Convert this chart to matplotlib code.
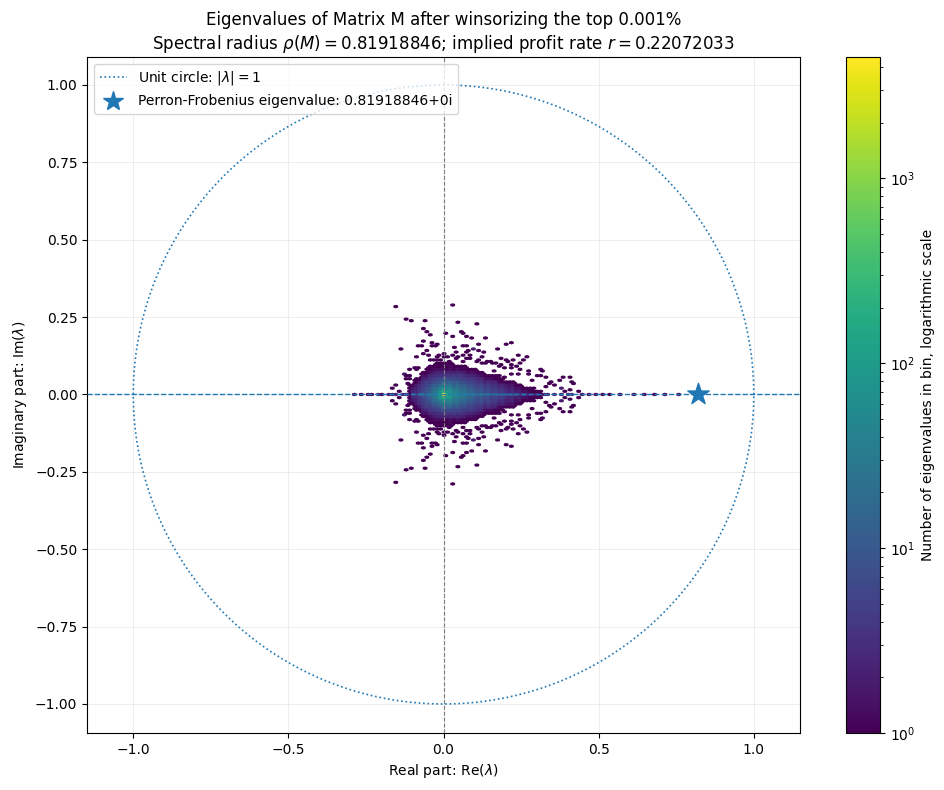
import numpy as np
import matplotlib
matplotlib.use('Agg')
import matplotlib.pyplot as plt
from matplotlib.colors import LogNorm
from matplotlib.lines import Line2D

# Perron-Frobenius eigenvalue and implied profit rate
pf_value = 0.81918846
profit_rate = 0.22072033

# real eigenvalues on the axis: position, how many
real_re = [-0.293, -0.265, -0.245, -0.232, -0.21, -0.195, -0.18, -0.165, -0.15,
           -0.135, -0.12, -0.10, -0.08, -0.06, -0.04, -0.02, 0.02, 0.04, 0.06,
           0.08, 0.10, 0.12, 0.14, 0.16, 0.18, 0.20, 0.22, 0.24, 0.26, 0.28,
           0.30, 0.32, 0.34, 0.36, 0.38, 0.40, 0.415, 0.447, 0.468, 0.49,
           0.516, 0.538, 0.57, 0.613, 0.645, 0.683, 0.71, 0.76, pf_value]
real_n = [1, 1, 1, 1, 2, 1, 2, 2, 2,
          3, 3, 4, 5, 6, 8, 15, 15, 10, 8,
          7, 6, 5, 5, 4, 4, 4, 3, 3, 3, 2,
          2, 2, 2, 2, 2, 2, 6, 1, 1, 1,
          1, 1, 1, 1, 1, 1, 1, 1, 1]

# bin holding the bulk at the origin
peak_n = 4300

# dense core, upper half plane (conjugates mirror it)
core_re = [-0.10, -0.08, -0.06, -0.04, -0.02, 0.00, 0.02, 0.04, 0.06, 0.08, 0.10,
           0.12, 0.14, 0.16, 0.18, 0.20, 0.22, 0.24, 0.26, 0.28, 0.30]
core_im = [0.00, 0.01, 0.02, 0.03, 0.04, 0.05, 0.06, 0.07, 0.08, 0.09]
core_n = [
    [2, 4, 8, 15, 40, 220, 90, 50, 30, 20, 15, 10, 8, 6, 5, 4, 3, 2, 2, 1, 1],
    [2, 3, 6, 12, 30, 80, 50, 30, 20, 15, 10, 8, 6, 5, 4, 3, 2, 2, 1, 1, 0],
    [1, 3, 5, 9, 18, 35, 30, 20, 15, 10, 8, 6, 5, 4, 3, 2, 2, 1, 0, 0, 0],
    [0, 2, 4, 6, 10, 18, 16, 12, 10, 7, 5, 4, 3, 3, 2, 2, 1, 0, 0, 0, 0],
    [0, 1, 3, 4, 6, 10, 9, 8, 6, 5, 4, 3, 2, 2, 1, 0, 0, 0, 0, 0, 0],
    [0, 0, 2, 3, 4, 5, 5, 5, 4, 3, 3, 2, 1, 1, 0, 0, 0, 0, 0, 0, 0],
    [0, 0, 1, 2, 3, 3, 3, 3, 3, 2, 2, 1, 0, 0, 0, 0, 0, 0, 0, 0, 0],
    [0, 0, 0, 1, 2, 2, 2, 2, 2, 1, 1, 0, 0, 0, 0, 0, 0, 0, 0, 0, 0],
    [0, 0, 0, 1, 1, 1, 1, 1, 1, 0, 0, 0, 0, 0, 0, 0, 0, 0, 0, 0, 0],
    [0, 0, 0, 0, 1, 1, 1, 0, 0, 0, 0, 0, 0, 0, 0, 0, 0, 0, 0, 0, 0],
]

# scattered single eigenvalues, upper half plane
scatter_re = [-0.158, 0.035, -0.120, -0.103, -0.057, 0.050, 0.104, -0.064, -0.050,
              -0.044, 0.006, 0.055, 0.061, 0.028, 0.076, 0.096, 0.137, -0.060,
              -0.035, -0.020, 0.116, 0.219, 0.202, -0.080, -0.040, -0.024, 0.060,
              0.074, -0.135, 0.039, 0.080, 0.098, 0.174, -0.055, 0.041, 0.130,
              -0.090, -0.050, -0.015, 0.007, 0.080, 0.242, 0.264, -0.044, -0.029,
              -0.010, 0.017, 0.044, 0.068, 0.114, 0.141, 0.158, 0.184, 0.198,
              0.213, 0.226, 0.248, 0.221, 0.182, -0.106, -0.087, -0.123, -0.104,
              -0.165, 0.269, 0.248, 0.319, 0.308, 0.342, 0.371, 0.411, 0.417,
              0.285, 0.334, 0.377, 0.404, 0.430, 0.246, 0.312, 0.382, 0.414,
              0.345, 0.382, -0.122, -0.096, -0.117, -0.14, -0.15, 0.36, 0.39,
              -0.074, 0.098, -0.060, -0.026, 0.004, 0.017, 0.028, 0.049, 0.060,
              0.073, 0.114, 0.119, -0.021, 0.073, 0.087, 0.103, 0.119, 0.135,
              0.151, 0.167, 0.187, 0.253, -0.078, 0.167, 0.194, 0.216, 0.232,
              0.275, -0.122, -0.111, -0.117, 0.178, 0.200, 0.221, 0.302, 0.329]
scatter_im = [0.282, 0.289, 0.243, 0.237, 0.238, 0.234, 0.226, 0.212, 0.201,
              0.193, 0.195, 0.203, 0.196, 0.187, 0.185, 0.182, 0.180, 0.173,
              0.169, 0.165, 0.163, 0.169, 0.159, 0.158, 0.155, 0.155, 0.159,
              0.155, 0.148, 0.152, 0.144, 0.146, 0.148, 0.141, 0.136, 0.134,
              0.122, 0.128, 0.128, 0.122, 0.125, 0.129, 0.122, 0.114, 0.110,
              0.112, 0.106, 0.117, 0.106, 0.110, 0.105, 0.103, 0.115, 0.112,
              0.108, 0.110, 0.103, 0.094, 0.090, 0.083, 0.084, 0.066, 0.052,
              0.017, 0.066, 0.081, 0.079, 0.062, 0.040, 0.045, 0.056, 0.038,
              0.047, 0.025, 0.020, 0.014, 0.009, 0.066, 0.079, 0.056, 0.041,
              0.036, 0.020, 0.068, 0.084, 0.036, 0.012, 0.030, 0.030, 0.012,
              0.158, 0.149, 0.131, 0.121, 0.130, 0.122, 0.126, 0.122, 0.128,
              0.134, 0.141, 0.122, 0.111, 0.114, 0.117, 0.106, 0.101, 0.104,
              0.106, 0.101, 0.095, 0.111, 0.088, 0.074, 0.085, 0.087, 0.090,
              0.074, 0.063, 0.058, 0.050, 0.063, 0.058, 0.065, 0.063, 0.058]


def build_points():
    """Collect eigenvalue positions and multiplicities for the hexbin."""
    xs, ys, ws = [], [], []
    for r, n in zip(real_re, real_n):
        xs.append(r); ys.append(0.0); ws.append(n)
    xs.append(0.0); ys.append(0.0); ws.append(peak_n)
    for r, i in zip(scatter_re, scatter_im):
        xs += [r, r]; ys += [i, -i]; ws += [1, 1]
    # hex cell area for gridsize 100
    xmin, xmax = min(xs), max(xs)
    ymin, ymax = min(ys), max(ys)
    hex_area = (xmax - xmin) / 100 * (ymax - ymin) / int(100 / np.sqrt(3)) / 2
    step = 0.0025
    w_sub = step * step / hex_area
    offs_x = np.arange(-0.01 + step / 2, 0.01, step)
    offs_y = np.arange(step / 2, 0.01, step)
    for i, band in enumerate(core_im):
        for j, r in enumerate(core_re):
            d = core_n[i][j]
            if d == 0:
                continue
            for ox in offs_x:
                for oy in offs_y:
                    xs += [r + ox, r + ox]
                    ys += [band + oy, -(band + oy)]
                    ws += [d * w_sub, d * w_sub]
    return np.array(xs), np.array(ys), np.array(ws)


x, y, w = build_points()

fig = plt.figure(figsize=(9.44, 7.9), dpi=100)
ax = fig.add_axes([0.0922, 0.0722, 0.7553, 0.8557])
cax = fig.add_axes([0.8962, 0.0722, 0.036, 0.8557])

hb = ax.hexbin(x, y, C=w, reduce_C_function=np.sum, gridsize=100,
               cmap='viridis', norm=LogNorm(vmin=1), zorder=2)

t = np.linspace(0, 2 * np.pi, 721)
ax.plot(np.cos(t), np.sin(t), ls=':', color='C0', lw=1.2, zorder=3)
ax.axhline(0, color='C0', ls='--', lw=1.0, zorder=4)
ax.axvline(0, color='C0', ls=(3.7, (1.6, 3.7)), lw=0.8, zorder=4)
ax.axvline(0, color='gray', ls=(0, (3.7, 1.6)), lw=0.8, zorder=4)
ax.scatter([pf_value], [0], marker='*', s=260, color='C0', zorder=5)

ax.set_xlim(-1.149, 1.149)
ax.set_ylim(-1.0936, 1.0904)
ax.set_xticks([-1.0, -0.5, 0.0, 0.5, 1.0])
ax.set_yticks([-1.0, -0.75, -0.5, -0.25, 0.0, 0.25, 0.5, 0.75, 1.0])
ax.grid(True, color='#dddddd', lw=0.6, alpha=0.6, zorder=0)
ax.set_axisbelow(True)

ax.set_xlabel(r'Real part: Re($\lambda$)')
ax.set_ylabel(r'Imaginary part: Im($\lambda$)')
title = ('Eigenvalues of Matrix M after winsorizing the top 0.001%\n'
         + r'Spectral radius $\rho(M) = ' + f'{pf_value:.8f}' + r'$; implied profit rate $r = '
         + f'{profit_rate:.8f}' + '$')
ax.set_title(title, fontsize=12)

handles = [
    Line2D([], [], ls=':', color='C0', lw=1.2, label=r'Unit circle: $|\lambda| = 1$'),
    Line2D([], [], ls='none', marker='*', markersize=15, color='C0',
           label=f'Perron-Frobenius eigenvalue: {pf_value:.8f}+0i'),
]
ax.legend(handles=handles, loc='upper left')

cb = fig.colorbar(hb, cax=cax)
cb.set_label('Number of eigenvalues in bin, logarithmic scale')

fig.savefig('out.png', dpi=100)
